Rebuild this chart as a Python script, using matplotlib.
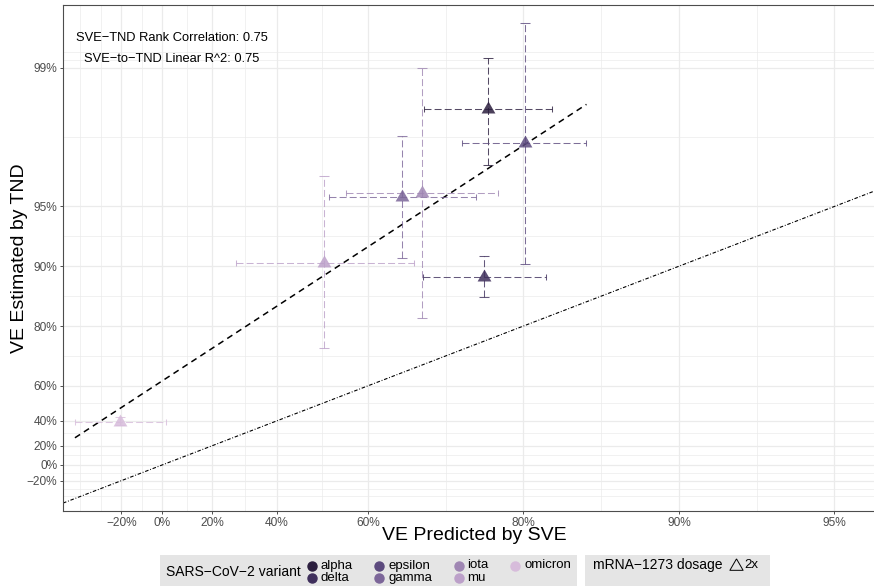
import numpy as np
import matplotlib
matplotlib.use('Agg')
import matplotlib.pyplot as plt
from matplotlib.lines import Line2D
from matplotlib.patches import Rectangle
from matplotlib.ticker import FixedLocator, FixedFormatter

plt.rcParams['font.family'] = ['Liberation Sans', 'DejaVu Sans']

# ---------------- data ----------------
variants = ['alpha', 'delta', 'epsilon', 'gamma', 'iota', 'mu', 'omicron']
colors = ['#2B1E3E', '#3F2F5C', '#5C4A7E', '#7C6699', '#9F86B3', '#BCA0C9', '#D7BCDB']
# VE predicted by SVE (x) and its interval
sve = [0.766, 0.762, 0.801, 0.657, 0.686, 0.514, -0.207]
sve_lo = [0.688, 0.687, 0.737, 0.524, 0.560, 0.279, -0.476]
sve_hi = [0.824, 0.819, 0.849, 0.753, 0.776, 0.675, 0.016]
# VE estimated by TND (y) and its interval
tnd = [0.9839, 0.8867, 0.9761, 0.9552, 0.9572, 0.9037, 0.390]
tnd_lo = [0.9692, 0.857, 0.9025, 0.909, 0.8177, 0.7406, 0.372]
tnd_hi = [0.99107, 0.9115, 0.9940, 0.978, 0.990, 0.965, 0.429]

breaks = [-0.2, 0.0, 0.2, 0.4, 0.6, 0.8, 0.9, 0.95, 0.99]
break_labels = ['\u221220%', '0%', '20%', '40%', '60%', '80%', '90%', '95%', '99%']
annot_lines = ['SVE\u2212TND Rank Correlation: 0.75', 'SVE\u2212to\u2212TND Linear R^2: 0.75']
dosage_title = 'mRNA\u22121273 dosage'
dosage_label = '2x'
variant_title = 'SARS\u2212CoV\u22122 variant'

# ---------------- scale ----------------
def fwd(v):
    v = np.asarray(v, dtype=float)
    return -np.log(np.clip(1.0 - v, 1e-12, None))

def inv(t):
    t = np.asarray(t, dtype=float)
    return 1.0 - np.exp(-t)

W, H = 874, 586
fig = plt.figure(figsize=(W / 100, H / 100), dpi=100)

def fx(px):
    return px / W

def fy(py):
    return 1 - py / H

ax = fig.add_axes([fx(63), fy(511), (885 - 63) / W, (511 - 5) / H])
ax.set_xscale('function', functions=(fwd, inv))
ax.set_yscale('function', functions=(fwd, inv))

# breaks and ggplot-style minor breaks
tb = fwd(breaks)
bd = tb[1] - tb[0]
ext = np.concatenate([[tb[0] - bd], tb, [tb[-1] + bd]])
mids = (ext[:-1] + ext[1:]) / 2
minor_t = np.concatenate([[ext[0]], mids, [ext[-1]]])
minor_v = inv(minor_t)

for axis in (ax.xaxis, ax.yaxis):
    axis.set_major_locator(FixedLocator(breaks))
    axis.set_major_formatter(FixedFormatter(break_labels))
    axis.set_minor_locator(FixedLocator(minor_v))

ax.grid(which='major', color='#EBEBEB', lw=0.9)
ax.grid(which='minor', color='#EBEBEB', lw=0.5)
ax.set_axisbelow(True)
ax.tick_params(which='major', length=2.5, width=0.6, color='#333333',
               labelsize=8.6, labelcolor='#4D4D4D', pad=1.5)
ax.tick_params(which='minor', length=0)
for s in ['top', 'left', 'bottom']:
    ax.spines[s].set_color('#4D4D4D')
    ax.spines[s].set_linewidth(0.8)
ax.spines['right'].set_visible(False)

# identity line
ax.axline((0.0, 0.0), (0.9, 0.9), color='black', lw=0.8,
          linestyle=(0, (3.2, 1.6, 0.8, 1.6)), zorder=2)

# linear fit in transformed space
xt, yt = fwd(sve), fwd(tnd)
b1, b0 = np.polyfit(xt, yt, 1)
xs = np.array([fwd(sve_lo).min(), fwd(sve_hi).max()])
ax.plot(inv(xs), inv(b0 + b1 * xs), color='black', lw=1.1,
        linestyle=(0, (4, 3)), zorder=3)

# error bars and points
tri = [(0, 1), (-0.866, -0.5), (0.866, -0.5), (0, 1)]
for i, c in enumerate(colors):
    x, y = sve[i], tnd[i]
    eb = ax.errorbar([x], [y], xerr=[[x - sve_lo[i]], [sve_hi[i] - x]],
                     fmt='none', ecolor=c, elinewidth=0.75, capsize=2.2,
                     capthick=0.75, alpha=0.8, zorder=4)
    eb[2][0].set_linestyle((0, (6.7, 3)))
    eb = ax.errorbar([x], [y], yerr=[[y - tnd_lo[i]], [tnd_hi[i] - y]],
                     fmt='none', ecolor=c, elinewidth=0.75, capsize=3.5,
                     capthick=0.75, alpha=0.8, zorder=4)
    eb[2][0].set_linestyle((0, (6.7, 3)))
    ax.plot([x], [y], linestyle='none', marker=tri, markersize=11.5,
            color=c, alpha=0.85, markeredgewidth=0, zorder=5)

ax.set_xlim(inv(-0.4425), inv(3.221))
ax.set_ylim(inv(-0.534), inv(5.33))

# annotation
ax.text(inv(0.043), inv(4.942), annot_lines[0], ha='center', va='center',
        fontsize=9.3, color='black')
ax.text(inv(0.043), inv(4.707), annot_lines[1], ha='center', va='center',
        fontsize=9.3, color='black')

ax.set_xlabel('VE Predicted by SVE', fontsize=14)
ax.set_ylabel('VE Estimated by TND', fontsize=14)
ax.xaxis.set_label_coords(0.5, -0.032)
ax.yaxis.set_label_coords(-0.043, 0.5)

# ---------------- legends (laid out by measured text widths) ----------------
renderer = fig.canvas.get_renderer()
TITLE_FS = 10.0
LAB_FS = 9.5
row_y = [565.5, 578]
title_y = 572
key_w, lab_off, pad = 14, 2, 6
box1 = (160, 577)
box2 = (585, 770)

def width_px(t):
    return t.get_window_extent(renderer).width

t = fig.text(fx(box1[0] + pad), fy(title_y), variant_title, ha='left', va='center',
             fontsize=TITLE_FS)
start = box1[0] + pad + width_px(t) + 4
ncol = (len(variants) + 1) // 2
# measure label widths
col_w = []
for col in range(ncol):
    ws = []
    for row in range(2):
        i = col * 2 + row
        if i < len(variants):
            tmp = fig.text(0, 0, variants[i], fontsize=LAB_FS)
            ws.append(width_px(tmp))
            tmp.remove()
    col_w.append(key_w + lab_off + max(ws))
gap = (box1[1] - pad - start - sum(col_w)) / (ncol - 1)
cur = start
for col in range(ncol):
    for row in range(2):
        i = col * 2 + row
        if i >= len(variants):
            continue
        fig.add_artist(Line2D([fx(cur + key_w / 2)], [fy(row_y[row])], marker='o',
                              color=colors[i], markersize=6.5, linestyle='none',
                              transform=fig.transFigure))
        fig.text(fx(cur + key_w + lab_off), fy(row_y[row]), variants[i],
                 ha='left', va='center', fontsize=LAB_FS)
    cur += col_w[col] + gap
fig.add_artist(Rectangle((fx(box1[0]), fy(587)), (box1[1] - box1[0]) / W, (587 - 555) / H,
                         transform=fig.transFigure, facecolor='#E5E5E5',
                         edgecolor='none', zorder=0))

t = fig.text(fx(box2[0] + pad + 2), fy(row_y[0]), dosage_title, ha='left', va='center',
             fontsize=TITLE_FS)
cur = box2[0] + pad + 2 + width_px(t) + 6
fig.add_artist(Line2D([fx(cur + key_w / 2)], [fy(row_y[0])], marker=tri, markersize=11,
                      markerfacecolor='none', markeredgecolor='black',
                      markeredgewidth=0.7, linestyle='none',
                      transform=fig.transFigure))
fig.text(fx(cur + key_w + lab_off), fy(row_y[0]), dosage_label, ha='left',
         va='center', fontsize=LAB_FS)
fig.add_artist(Rectangle((fx(box2[0]), fy(587)), (box2[1] - box2[0]) / W, (587 - 555) / H,
                         transform=fig.transFigure, facecolor='#E5E5E5',
                         edgecolor='none', zorder=0))

fig.savefig('out.png', dpi=100)
